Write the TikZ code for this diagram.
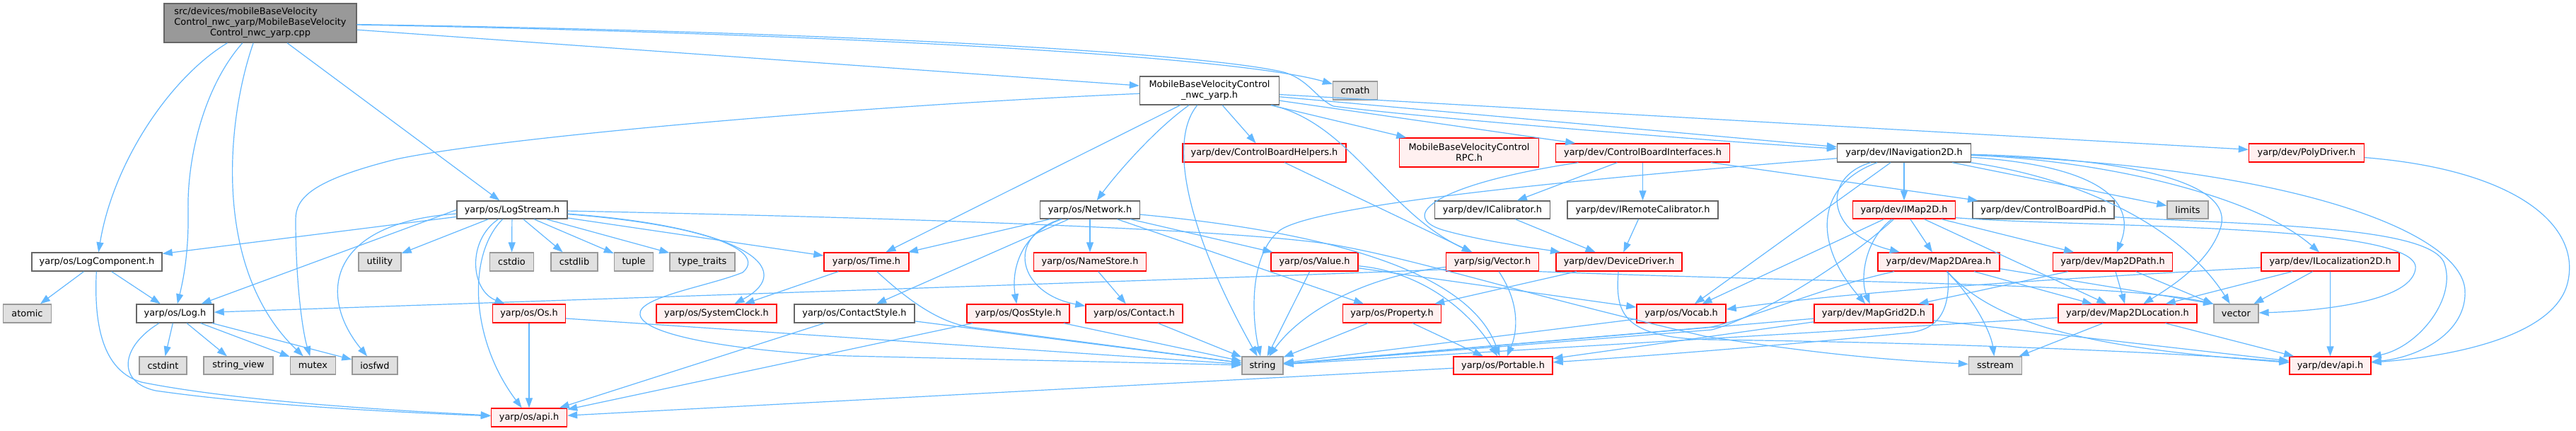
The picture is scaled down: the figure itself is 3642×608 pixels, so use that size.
\documentclass[tikz,border=0pt]{standalone}
\usepackage{fontspec}
\setmainfont{DejaVu Sans}
\usetikzlibrary{arrows.meta}
\definecolor{eblue}{HTML}{63B8FF}
\definecolor{gborder}{HTML}{666666}
\definecolor{sborder}{HTML}{999999}
\definecolor{sfill}{HTML}{E0E0E0}
\definecolor{rfill}{HTML}{FFF0F0}
\definecolor{rootgray}{HTML}{999999}
\begin{document}
\begin{tikzpicture}[x=1pt,y=-1pt,
  nb/.style={draw=gborder, fill=white, line width=1.4pt, inner sep=0pt, align=center,
    font=\fontsize{12.9pt}{15.2pt}\selectfont},
  rb/.style={nb, draw=red, fill=rfill},
  sb/.style={nb, draw=sborder, fill=sfill},
  lnk/.style={draw=eblue, line width=1.2pt, -{Triangle[length=14pt,width=10pt]}},
]
\useasboundingbox (0,0) rectangle (3642,608);
\fill[white] (0,0) rectangle (3642,608);

% ---------- nodes ----------
\node[nb, fill=rootgray, minimum width=272pt, minimum height=55pt] (root) at (368,32.5)
  {\begin{tabular}{@{}l@{}}src/devices/mobileBaseVelocity\\Control\_nwc\_yarp/MobileBaseVelocity\\\multicolumn{1}{@{}c@{}}{Control\_nwc\_yarp.cpp}\end{tabular}};
\node[nb, minimum width=197pt, minimum height=40pt] (mbv) at (1710,128) {MobileBaseVelocityControl\\\_nwc\_yarp.h};
\node[sb, minimum width=63pt, minimum height=26pt] (cmath) at (1916,128) {cmath};

\node[rb, minimum width=231pt, minimum height=26pt] (cbh) at (1787.5,216) {yarp/dev/ControlBoardHelpers.h};
\node[rb, minimum width=197pt, minimum height=41pt] (rpc) at (2077,215.5) {MobileBaseVelocityControl\\RPC.h};
\node[rb, minimum width=246pt, minimum height=26pt] (cbi) at (2322.5,216) {yarp/dev/ControlBoardInterfaces.h};
\node[nb, minimum width=189pt, minimum height=26pt] (inav) at (2692,216) {yarp/dev/INavigation2D.h};
\node[rb, minimum width=163pt, minimum height=26pt] (poly) at (3261,216) {yarp/dev/PolyDriver.h};

\node[nb, minimum width=156pt, minimum height=25pt] (logstream) at (724,296.5) {yarp/os/LogStream.h};
\node[nb, minimum width=141pt, minimum height=25pt] (network) at (1541,296.5) {yarp/os/Network.h};
\node[nb, minimum width=163pt, minimum height=25pt] (ical) at (2110,296.5) {yarp/dev/ICalibrator.h};
\node[nb, minimum width=213pt, minimum height=25pt] (irc) at (2322.5,296.5) {yarp/dev/IRemoteCalibrator.h};
\node[rb, minimum width=145pt, minimum height=25pt] (imap) at (2692,296.5) {yarp/dev/IMap2D.h};
\node[nb, minimum width=200pt, minimum height=25pt] (cbpid) at (2889,296.5) {yarp/dev/ControlBoardPid.h};
\node[sb, minimum width=58pt, minimum height=25pt] (limits) at (3093,296.5) {limits};

\node[nb, minimum width=184pt, minimum height=26pt] (logcomp) at (137,370) {yarp/os/LogComponent.h};
\node[sb, minimum width=60pt, minimum height=26pt] (utility) at (537,370) {utility};
\node[sb, minimum width=62pt, minimum height=26pt] (cstdio) at (723.5,370) {cstdio};
\node[sb, minimum width=66pt, minimum height=26pt] (cstdlib) at (812,370) {cstdlib};
\node[sb, minimum width=55pt, minimum height=26pt] (tuple) at (896,370) {tuple};
\node[sb, minimum width=92pt, minimum height=26pt] (typetraits) at (993,370) {type\_traits};
\node[rb, minimum width=120pt, minimum height=26pt] (time) at (1225,370) {yarp/os/Time.h};
\node[rb, minimum width=159pt, minimum height=26pt] (namestore) at (1541,370) {yarp/os/NameStore.h};
\node[rb, minimum width=123pt, minimum height=26pt] (value) at (1858.5,370) {yarp/os/Value.h};
\node[rb, minimum width=131pt, minimum height=26pt] (sigvector) at (2110,370) {yarp/sig/Vector.h};
\node[rb, minimum width=178pt, minimum height=26pt] (devdrv) at (2289,370) {yarp/dev/DeviceDriver.h};
\node[rb, minimum width=172pt, minimum height=26pt] (m2darea) at (2741,370) {yarp/dev/Map2DArea.h};
\node[rb, minimum width=169pt, minimum height=26pt] (m2dpath) at (2987,370) {yarp/dev/Map2DPath.h};
\node[rb, minimum width=195pt, minimum height=26pt] (iloc) at (3294.6,370) {yarp/dev/ILocalization2D.h};

\node[sb, minimum width=68pt, minimum height=26pt] (atomic) at (38.5,443) {atomic};
\node[nb, minimum width=109pt, minimum height=26pt] (log) at (247.5,443) {yarp/os/Log.h};
\node[rb, minimum width=103pt, minimum height=26pt] (os) at (748,443) {yarp/os/Os.h};
\node[rb, minimum width=170pt, minimum height=26pt] (sysclock) at (1013,443) {yarp/os/SystemClock.h};
\node[nb, minimum width=170pt, minimum height=26pt] (cstyle) at (1208,443) {yarp/os/ContactStyle.h};
\node[rb, minimum width=145pt, minimum height=26pt] (qos) at (1439.5,443) {yarp/os/QosStyle.h};
\node[rb, minimum width=137pt, minimum height=26pt] (contact) at (1603.5,443) {yarp/os/Contact.h};
\node[rb, minimum width=139pt, minimum height=26pt] (property) at (1968,443) {yarp/os/Property.h};
\node[rb, minimum width=126pt, minimum height=26pt] (vocab) at (2377,443) {yarp/os/Vocab.h};
\node[rb, minimum width=168pt, minimum height=26pt] (mapgrid) at (2649,443) {yarp/dev/MapGrid2D.h};
\node[rb, minimum width=196pt, minimum height=26pt] (m2dloc) at (3008,443) {yarp/dev/Map2DLocation.h};
\node[sb, minimum width=63pt, minimum height=26pt] (stdvector) at (3161.4,443) {vector};

\node[sb, minimum width=67pt, minimum height=25pt] (cstdint) at (230.5,516.5) {cstdint};
\node[sb, minimum width=98pt, minimum height=25pt] (strview) at (337,516.5) {string\_view};
\node[sb, minimum width=64pt, minimum height=25pt] (mutex) at (442.5,516.5) {mutex};
\node[sb, minimum width=64pt, minimum height=25pt] (iosfwd) at (530,516.5) {iosfwd};
\node[sb, minimum width=58pt, minimum height=25pt] (string) at (1785,516.5) {string};
\node[rb, minimum width=140pt, minimum height=25pt] (portable) at (2125,516.5) {yarp/os/Portable.h};
\node[sb, minimum width=75pt, minimum height=25pt] (sstream) at (2821,516.5) {sstream};
\node[rb, minimum width=115pt, minimum height=25pt] (devapi) at (3294.5,516.5) {yarp/dev/api.h};

\node[rb, minimum width=107pt, minimum height=26pt] (osapi) at (748,590) {yarp/os/api.h};

% ---------- edges ----------
% root
\draw[lnk] (root) -- (mbv);
\draw[lnk] (root) .. controls (240,110) and (160,230) .. (logcomp);
\draw[lnk] (root) .. controls (290,120) and (264,220) .. (266,300) .. controls (267,360) and (258,400) .. (log);
\draw[lnk] (root) .. controls (320,170) and (300,380) .. (mutex);
\draw[lnk] (root) -- (logstream);
\draw[lnk] (root) .. controls (1200,48) and (1750,80) .. (cmath);
\draw[lnk] (root) .. controls (1200,45) and (1700,75) .. (1815,102) .. controls (1850,112) and (1862,140) .. (1885,150) .. controls (2000,165) and (2400,198) .. (inav);

% MobileBaseVelocityControl_nwc_yarp.h
\draw[lnk] (mbv) .. controls (1630,185) and (1575,250) .. (network);
\draw[lnk] (mbv) -- (cbh);
\draw[lnk] (mbv) -- (rpc);
\draw[lnk] (mbv) -- (cbi);
\draw[lnk] (mbv) -- (inav);
\draw[lnk] (mbv) -- (poly);
\draw[lnk] (mbv) -- (time);
\draw[lnk] (mbv) .. controls (1650,200) and (1680,330) .. (string);
\draw[lnk] (mbv) .. controls (1200,150) and (700,195) .. (560,225) .. controls (440,255) and (418,280) .. (418,310) .. controls (418,400) and (428,470) .. (mutex);
\draw[lnk] (mbv) .. controls (1910,175) and (1960,300) .. (sigvector);

% control board
\draw[lnk] (cbh) -- (sigvector);
\draw[lnk] (cbi) -- (ical);
\draw[lnk] (cbi) -- (irc);
\draw[lnk] (cbi) -- (cbpid);
\draw[lnk] (cbi) .. controls (2030,260) and (1975,305) .. (2040,325) .. controls (2100,342) and (2180,352) .. (devdrv);
\draw[lnk] (ical) -- (devdrv);
\draw[lnk] (irc) -- (devdrv);
\draw[lnk] (devdrv) -- (property);
\draw[lnk] (devdrv) .. controls (2284,440) and (2290,478) .. (2420,480) .. controls (2800,485) and (3100,500) .. (devapi);

% sig/Vector.h
\draw[lnk] (sigvector) .. controls (2150,430) and (2145,470) .. (portable);
\draw[lnk] (sigvector) .. controls (1930,390) and (1840,440) .. (string);
\draw[lnk] ([yshift=3pt]sigvector.south west) -- (1800,390) -- (log);
\draw[lnk] (sigvector.south east) .. controls (2600,400) and (3000,400) .. (stdvector.north west);

% Value.h
\draw[lnk] (value) -- (string);
\draw[lnk] (value) .. controls (2020,385) and (2085,450) .. (portable);
\draw[lnk] (value) -- (vocab);

% Network.h
\draw[lnk] (network) -- (namestore);
\draw[lnk] (network) .. controls (1440,330) and (1430,385) .. (qos);
\draw[lnk] (network) .. controls (1420,335) and (1440,415) .. ([yshift=-3pt]contact.north west);
\draw[lnk] (network) -- (cstyle);
\draw[lnk] (network) -- (time);
\draw[lnk] (network) -- (value);
\draw[lnk] (network) -- (property);
\draw[lnk] (network) .. controls (1900,330) and (2080,390) .. (portable);

% os level
\draw[lnk] (namestore) -- (contact);
\draw[lnk] (time) -- (sysclock);
\draw[lnk] (time) .. controls (1290,430) and (1330,455) .. (1370,462) -- (string);
\draw[lnk] (os) -- (osapi);
\draw[lnk] ([yshift=-7pt]os.east) -- (string);
\draw[lnk] (cstyle) -- (osapi);
\draw[lnk] (cstyle) -- (string);
\draw[lnk] (qos) -- (osapi);
\draw[lnk] (qos) -- (string);
\draw[lnk] (contact) -- (string);
\draw[lnk] (property) -- (string);
\draw[lnk] (property) -- (portable);
\draw[lnk] (vocab) -- (string);
\draw[lnk] (portable) -- (osapi);

% LogStream.h
\draw[lnk] (logstream.west) -- (log);
\draw[lnk] (logstream) -- (logcomp);
\draw[lnk] (logstream) -- (utility);
\draw[lnk] (logstream) -- (cstdio);
\draw[lnk] (logstream) -- (cstdlib);
\draw[lnk] (logstream) -- (tuple);
\draw[lnk] (logstream) -- (typetraits);
\draw[lnk] (logstream) .. controls (660,340) and (665,410) .. (os);
\draw[lnk] (logstream) .. controls (660,360) and (665,480) .. (osapi);
\draw[lnk] (logstream) .. controls (460,315) and (450,420) .. (iosfwd);
\draw[lnk] (logstream) .. controls (1050,320) and (1130,380) .. (sysclock);
\draw[lnk] (logstream) -- (time);
\draw[lnk] (logstream) .. controls (1000,318) and (1085,355) .. (1050,385) .. controls (1000,405) and (900,420) .. (905,445) .. controls (910,475) and (1050,497) .. (1200,503) -- (string);
\draw[lnk] (logstream) .. controls (1300,308) and (1750,325) .. (1880,345) .. controls (2000,365) and (2150,415) .. (2410,475) .. controls (2600,505) and (2700,510) .. (sstream);

% LogComponent.h and Log.h
\draw[lnk] (logcomp) -- (atomic);
\draw[lnk] (logcomp) -- (log);
\draw[lnk] (logcomp) .. controls (132,470) and (150,525) .. (200,540) .. controls (350,570) and (600,582) .. (osapi);
\draw[lnk] (log) -- (cstdint);
\draw[lnk] (log) -- (strview);
\draw[lnk] (log) -- (mutex);
\draw[lnk] (log) -- (iosfwd);
\draw[lnk] (log) .. controls (170,490) and (165,540) .. (220,552) .. controls (380,575) and (600,584) .. (osapi);

% INavigation2D.h
\draw[lnk] (inav) -- (imap);
\draw[lnk] (inav) -- (limits);
\draw[lnk] (inav) .. controls (2950,225) and (3180,270) .. (iloc);
\draw[lnk] (inav) .. controls (2950,222) and (3160,245) .. (3140,320) .. controls (3125,370) and (3070,405) .. (m2dloc);
\draw[lnk] (inav) .. controls (2980,235) and (3020,290) .. (m2dpath);
\draw[lnk] (inav) .. controls (2960,255) and (3090,330) .. (stdvector);
\draw[lnk] (inav) .. controls (2300,248) and (1870,285) .. (1810,325) .. controls (1765,360) and (1770,450) .. (string);
\draw[lnk] (inav) .. controls (2570,260) and (2560,340) .. (mapgrid);
\draw[lnk] (inav) .. controls (2575,250) and (2580,330) .. (m2darea);
\draw[lnk] (inav) -- (vocab);
\draw[lnk] (inav) .. controls (3250,235) and (3480,330) .. (3485,410) .. controls (3488,470) and (3420,505) .. (devapi);

% IMap2D.h
\draw[lnk] (imap) -- (m2darea);
\draw[lnk] (imap) -- (m2dpath);
\draw[lnk] (imap) -- (m2dloc);
\draw[lnk] (imap) .. controls (2635,340) and (2630,395) .. (mapgrid);
\draw[lnk] (imap) -- (vocab);
\draw[lnk] (imap) .. controls (2600,380) and (2480,450) .. (2420,466) -- (string);
\draw[lnk] ([yshift=2pt]imap.south east) .. controls (2950,322) and (3425,315) .. (3415,380) .. controls (3408,430) and (3260,440) .. (stdvector);

% ControlBoardPid.h
\draw[lnk] ([yshift=3pt]cbpid.south east) .. controls (3200,318) and (3430,320) .. (3455,370) .. controls (3475,420) and (3420,490) .. (devapi);

% map headers
\draw[lnk] (m2dloc) -- (devapi);
\draw[lnk] (m2dloc) -- (sstream);
\draw[lnk] (m2dloc) -- (string);
\draw[lnk] (mapgrid) -- (string);
\draw[lnk] (mapgrid) -- (devapi);
\draw[lnk] (mapgrid) -- (portable);
\draw[lnk] (m2darea) -- (m2dloc);
\draw[lnk] (m2darea) .. controls (2830,470) and (3000,495) .. (devapi);
\draw[lnk] ([xshift=11pt]m2darea.south) .. controls (2790,420) and (2815,470) .. (sstream);
\draw[lnk] ([xshift=13pt]m2darea.south) .. controls (2758,440) and (2740,465) .. (2700,470) .. controls (2500,490) and (2300,505) .. (portable);
\draw[lnk] ([yshift=4pt]m2darea.south east) -- (stdvector.north west);
\draw[lnk] (m2darea) .. controls (2580,405) and (2490,445) .. (2420,462) -- (string);
\draw[lnk] (m2dpath) -- (m2dloc);
\draw[lnk] (m2dpath) -- (mapgrid);
\draw[lnk] (m2dpath) -- (stdvector);
\draw[lnk] (iloc) -- (devapi);
\draw[lnk] (iloc) -- (stdvector);
\draw[lnk] (iloc) -- (m2dloc);
\draw[lnk] ([yshift=-8pt]iloc.west) .. controls (2800,400) and (2600,415) .. ([yshift=6pt]vocab.east);
\draw[lnk] (poly) .. controls (3560,240) and (3650,320) .. (3630,400) .. controls (3610,480) and (3450,505) .. (devapi);
\end{tikzpicture}
\end{document}
